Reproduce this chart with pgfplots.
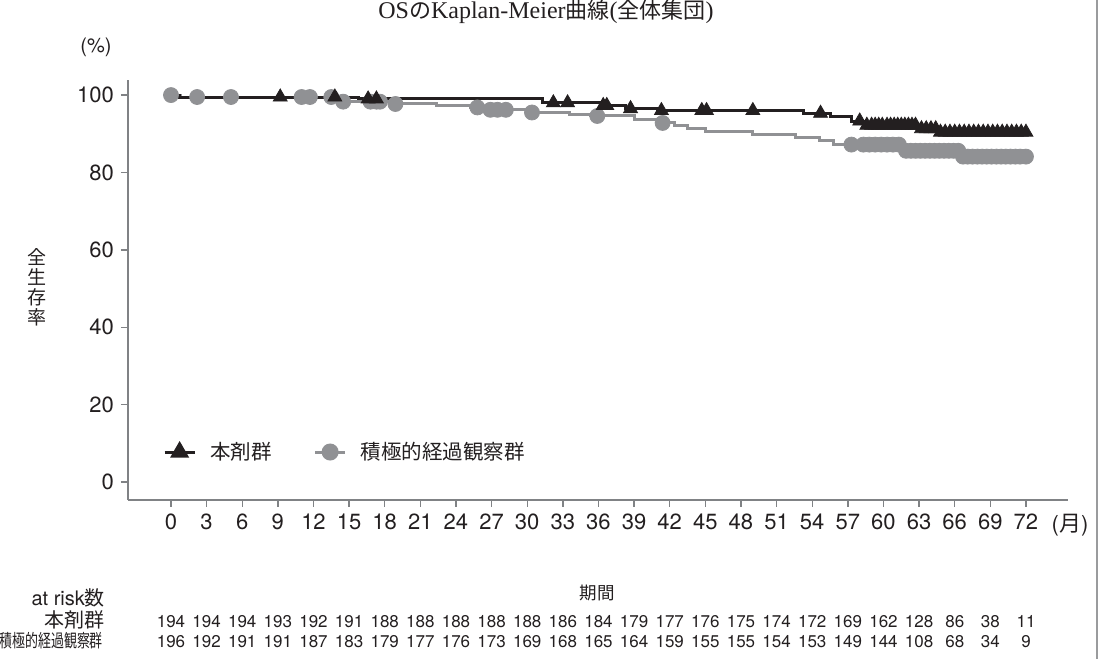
\documentclass[border=0pt]{standalone}
\usepackage{fontspec}
\usepackage{graphicx}
\usepackage{pgfplots}
\pgfplotsset{compat=1.18}
\setmainfont{TeX Gyre Heros}
\newfontfamily\jp{Noto Sans CJK JP}
\newfontfamily\titlefont{Liberation Serif}
\definecolor{kmblack}{HTML}{231F20}
\definecolor{kmgray}{HTML}{909194}
\definecolor{axisgray}{HTML}{808285}

% Kaplan-Meier steps: (time of step in months, survival in %)
\pgfplotstableread{
t s
0 100
0.7 99.5
15.8 99.0
31.3 98.0
36.2 97.3
38.3 96.5
41.0 96.0
53.3 95.3
55.5 94.5
57.3 93.3
58.3 92.2
63.0 91.3
64.6 90.4
72.3 90.4
}\armA
\pgfplotstableread{
t s
0 100
0.8 99.5
14.2 98.3
18.5 97.7
22.4 97.3
25.2 96.8
26.6 96.2
30.0 95.5
33.6 95.0
35.3 94.6
39.0 93.6
41.0 92.8
42.4 92.2
43.5 91.4
45.0 90.5
49.0 89.7
52.6 89.0
54.6 88.3
55.8 87.2
61.6 85.6
66.4 84.1
72.3 84.1
}\armB

\begin{document}
\begin{tikzpicture}[x=0.5pt,y=0.5pt]
\path[use as bounding box] (0,0) rectangle (1100,659);
\begin{axis}[
  at={(64pt,79.5pt)}, anchor=south west,
  scale only axis, width=470pt, height=210pt,
  xmin=-3.62, xmax=75.54, ymin=-4.65, ymax=103.9,
  axis x line=bottom, axis y line=left,
  axis line style={axisgray, line width=0.8pt, -},
  xtick={0,3,...,72}, ytick={0,20,...,100},
  tick align=outside, major tick length=3.5pt,
  tick style={axisgray, line width=0.7pt},
  ticklabel style={font=\fontsize{11}{13}\selectfont, text=kmblack},
  /pgf/number format/assume math mode=true,
  legend style={at={(axis cs:-1.2,7.75)}, anchor=west, draw=none, fill=none,
    font=\jp\fontsize{10.25}{12}\selectfont, text=kmblack,
    /tikz/every odd column/.append style={column sep=5pt},
    /tikz/every even column/.append style={column sep=19pt}},
  legend columns=2,
  legend image code/.code={\draw[#1, mark repeat=2, mark phase=2]
    plot coordinates {(0pt,0pt)(7.5pt,0pt)(15pt,0pt)};},
]
\addlegendimage{kmblack, line width=1.5pt, mark=triangle*, mark size=4pt, mark options={solid}}
\addlegendentry{本剤群}
\addlegendimage{kmgray, line width=1.5pt, mark=*, mark size=3.5pt, mark options={solid}}
\addlegendentry{積極的経過観察群}

\addplot[const plot, kmgray, line width=1.5pt, forget plot] table[x=t, y=s] {\armB};
\addplot[const plot, kmblack, line width=1.5pt, forget plot] table[x=t, y=s] {\armA};

% censored, comparison arm
\addplot[only marks, mark=*, mark size=3.75pt, kmgray, forget plot] coordinates {
(0,100)(2.2,99.5)(5.05,99.5)(11.0,99.5)(11.7,99.5)(13.5,99.5)
(14.5,98.3)(16.8,98.3)(17.3,98.3)(17.6,98.3)(18.9,97.7)
(25.8,96.8)(26.9,96.2)(27.5,96.2)(28.2,96.2)(30.4,95.5)(35.9,94.6)(41.4,92.8)
(57.3,87.2)(58.3,87.2)(58.8,87.2)(59.3,87.2)(59.8,87.2)(60.3,87.2)(60.8,87.2)(61.3,87.2)
(61.9,85.6)(62.3,85.6)(62.7,85.6)(63.1,85.6)(63.5,85.6)(63.9,85.6)(64.3,85.6)(64.7,85.6)
(65.1,85.6)(65.5,85.6)(65.9,85.6)(66.3,85.6)
(66.7,84.1)(67.1,84.1)(67.5,84.1)(67.9,84.1)(68.3,84.1)(68.7,84.1)(69.1,84.1)(69.5,84.1)
(69.9,84.1)(70.3,84.1)(70.7,84.1)(71.1,84.1)(71.5,84.1)(72.0,84.1)
};
% censored, treatment arm
\addplot[only marks, mark=triangle*, mark size=4pt, kmblack, forget plot] coordinates {
(9.2,99.5)(13.8,99.5)(16.6,99.0)(17.3,99.0)(32.2,98.0)(33.4,98.0)
(36.4,97.3)(36.7,97.3)(38.7,96.5)(41.3,96.0)(44.7,96.0)(45.1,96.0)(49.0,96.0)
(54.7,95.3)(58.0,93.3)
(58.6,92.2)(59.0,92.2)(59.3,92.2)(59.6,92.2)(59.9,92.2)(60.3,92.2)(60.6,92.2)(60.9,92.2)
(61.2,92.2)(61.5,92.2)(61.8,92.2)(62.1,92.2)(62.4,92.2)(62.7,92.2)
(63.2,91.3)(63.6,91.3)(64.0,91.3)(64.4,91.3)
(64.8,90.4)(65.2,90.4)(65.6,90.4)(66.0,90.4)(66.4,90.4)(66.8,90.4)(67.2,90.4)(67.6,90.4)
(68.0,90.4)(68.4,90.4)(68.8,90.4)(69.2,90.4)(69.6,90.4)(70.0,90.4)(70.4,90.4)(70.8,90.4)
(71.2,90.4)(71.6,90.4)(72.0,90.4)
};
\end{axis}

% title and axis captions
\node[text=kmblack] at (546,647) {\titlefont\fontsize{12}{13}\selectfont OS{\jp\fontsize{11}{12}\selectfont の}Kaplan-Meier{\jp\fontsize{11}{12}\selectfont 曲線}({\jp\fontsize{11}{12}\selectfont 全体集団})};
\node[text=kmblack, font=\fontsize{10}{12}\selectfont] at (96,612) {(\%)};
\node[text=kmblack, align=center, font=\jp\fontsize{9.5}{10}\selectfont] at (37,372) {全\\生\\存\\率};
\node[text=kmblack, font=\jp\fontsize{8.75}{10}\selectfont] at (597,66) {期間};
\node[text=kmblack, font=\fontsize{11}{13}\selectfont] at (1070,134) {({\jp 月})};

% numbers at risk
\node[text=kmblack, anchor=base east, font=\fontsize{10}{11}\selectfont] at (112,53) {at risk{\jp 数}};
\node[text=kmblack, anchor=base east, font=\jp\fontsize{10}{11}\selectfont] at (112,31) {本剤群};
\node[text=kmblack, anchor=base east, font=\jp\fontsize{9}{11}\selectfont] at (110,11) {\scalebox{0.72}[1]{積極的経過観察群}};
\foreach \n [count=\i from 0] in {194,194,194,193,192,191,188,188,188,188,188,186,184,179,177,176,175,174,172,169,162,128,86,38,11}
  \node[text=kmblack, anchor=base, font=\fontsize{8.5}{10}\selectfont] at (171+35.625*\i,31) {\n};
\foreach \n [count=\i from 0] in {196,192,191,191,187,183,179,177,176,173,169,168,165,164,159,155,155,154,153,149,144,108,68,34,9}
  \node[text=kmblack, anchor=base, font=\fontsize{8.5}{10}\selectfont] at (171+35.625*\i,11) {\n};

\draw[axisgray!80, line width=1pt] (1097,0) -- (1097,659);
\end{tikzpicture}
\end{document}
